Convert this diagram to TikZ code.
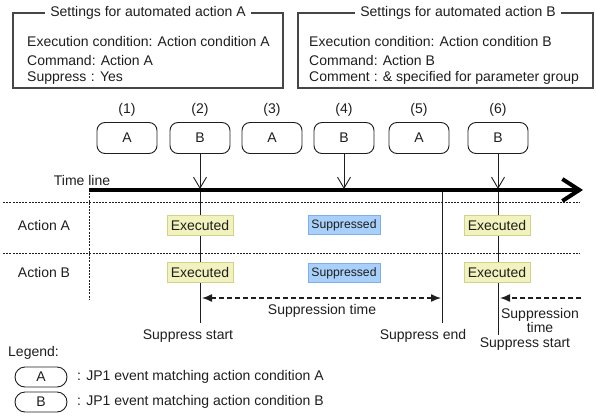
\documentclass[tikz,border=0pt]{standalone}
\usepackage{fontspec}
\setmainfont{Liberation Sans}
\usetikzlibrary{arrows.meta}
\definecolor{execfill}{RGB}{242,242,190}
\definecolor{execline}{RGB}{210,210,140}
\definecolor{suppfill}{RGB}{168,208,250}
\definecolor{suppline}{RGB}{125,175,235}
\definecolor{ink}{RGB}{30,30,30}
\definecolor{frame}{RGB}{70,70,70}
\newcommand{\fmain}{\fontsize{14}{16}\selectfont}
\newcommand{\fsmall}{\fontsize{12.2}{14}\selectfont}
\tikzset{
  txt/.style={font=\fmain, text=ink, inner sep=0pt},
  settingbox/.style={draw=frame, line width=1.2pt},
  boxtitle/.style={txt, fill=white, inner xsep=5pt, inner ysep=2pt},
  evt/.style={draw=ink, line width=0.9pt, rounded corners=8pt, minimum width=60pt, minimum height=31pt, font=\fmain, text=ink, inner sep=0pt},
  legevt/.style={draw=ink, line width=0.9pt, rounded corners=10pt, minimum width=52pt, minimum height=20pt, font=\fmain, text=ink, inner sep=0pt},
  execbox/.style={draw=execline, fill=execfill, line width=0.9pt, minimum width=66pt, minimum height=20pt, font=\fmain, text=ink, inner sep=0pt},
  suppbox/.style={draw=suppline, fill=suppfill, line width=0.9pt, minimum width=72pt, minimum height=19pt, font=\fsmall, text=ink, inner sep=0pt},
  vline/.style={draw=ink, line width=0.9pt},
  evtarrow/.style={draw=ink, line width=0.9pt, -{Straight Barb[length=11pt,width=13pt,line width=0.9pt]}},
  dotline/.style={draw=ink, line width=0.8pt, dash pattern=on 2pt off 1.2pt},
  supparrow/.style={draw=ink, line width=1.4pt, dash pattern=on 5pt off 3pt},
}
\begin{document}
\begin{tikzpicture}[x=1pt,y=-1pt]
\useasboundingbox (0,0) rectangle (596,415);
% settings boxes
\draw[settingbox] (13,13) rectangle (283,88);
\node[boxtitle] (tA) at (148,13) {Settings for automated action A};
\node[txt, anchor=west] (a1) at (27,41) {Execution condition: Action condition A};
\node[txt, anchor=west] (a2) at (27,60) {Command: Action A};
\node[txt, anchor=west] (a3) at (27,78) {Suppress\,\,: Yes};
\draw[settingbox] (298,13) rectangle (593,88);
\node[boxtitle] (tB) at (458,13) {Settings for automated action B};
\node[txt, anchor=west] (b1) at (309,41) {Execution condition: Action condition B};
\node[txt, anchor=west] (b2t) at (309,60) {Command: Action B};
\node[txt, anchor=west] (b3) at (309,78) {Comment : \& specified for parameter group};
% event labels
\foreach \i/\x in {1/127,2/200,3/272,4/344,5/419,6/498}{
  \node[txt] (n\i) at (\x,110) {(\i)};
}
\node[evt] (e1) at (127,138) {A};
\node[evt] (e2) at (200,138) {B};
\node[evt] (e3) at (272,138) {A};
\node[evt] (e4) at (344,138) {B};
\node[evt] (e5) at (419,138) {A};
\node[evt] (e6) at (498,138) {B};
% coordinates
\coordinate (tl0) at (89,190);
\coordinate (tl1) at (583,190);
\coordinate (d1a) at (3,202);
\coordinate (d1b) at (580,202);
\coordinate (d2a) at (3,253);
\coordinate (d2b) at (580,253);
\coordinate (vd) at (89,300);
\coordinate (l2end) at (200,323);
\coordinate (l2tl) at (200,189);
\coordinate (l4tl) at (344,189);
\coordinate (l6tl) at (498,189);
\coordinate (l6end) at (498,335);
\coordinate (sEtop) at (442,192);
\coordinate (sEbot) at (442,323);
\coordinate (s1a) at (202,298);
\coordinate (s1b) at (441,298);
\coordinate (s2a) at (581,298);
\coordinate (s2b) at (500,298);
% dotted lines
\draw[dotline] (d1a) -- (d1b);
\draw[dotline] (d2a) -- (d2b);
\draw[dotline] (tl0) -- (vd);
% vertical lines
\draw[vline] (e2.south) -- (l2end);
\draw[vline] (e6.south) -- (l6end);
\draw[vline] (sEtop) -- (sEbot);
% timeline
\draw[draw=black, line width=4pt, -{Straight Barb[length=17pt,width=22pt]}] (tl0) -- (tl1);
\node[txt] (tltxt) at (82,180) {Time line};
% event arrows
\draw[evtarrow] (e2.south) -- (l2tl);
\draw[evtarrow] (e4.south) -- (l4tl);
\draw[evtarrow] (e6.south) -- (l6tl);
% rows
\node[txt] (rA) at (44,225) {Action A};
\node[txt] (rB) at (44,272) {Action B};
\node[execbox] (x1) at (200,225) {Executed};
\node[execbox] (x2) at (200,272) {Executed};
\node[suppbox] (p1) at (344,225) {Suppressed};
\node[suppbox] (p2) at (344,273) {Suppressed};
\node[execbox] (x3) at (497,225) {Executed};
\node[execbox] (x4) at (497,272) {Executed};
% suppression arrows
\draw[supparrow, {Latex[length=10pt,width=8pt]}-{Latex[length=10pt,width=8pt]}] (s1a) -- (s1b);
\draw[supparrow, -{Latex[length=10pt,width=8pt]}] (s2a) -- (s2b);
\node[txt] (st1) at (322,311) {Suppression time};
\node[txt, align=center, font=\fontsize{14}{14}\selectfont] (st2) at (540,320) {Suppression\\time};
\node[txt] (ss1) at (188,336) {Suppress start};
\node[txt] (se) at (423,336) {Suppress end};
\node[txt] (ss2) at (525,344) {Suppress start};
% legend
\node[txt, anchor=west] (leg) at (8,353) {Legend:};
\node[legevt] (lA) at (41,377) {A};
\node[legevt] (lB) at (41,402) {B};
\node[txt, anchor=west] (lAt) at (77,377) {: JP1 event matching action condition A};
\node[txt, anchor=west] (lBt) at (77,402) {: JP1 event matching action condition B};
\end{tikzpicture}
\end{document}
